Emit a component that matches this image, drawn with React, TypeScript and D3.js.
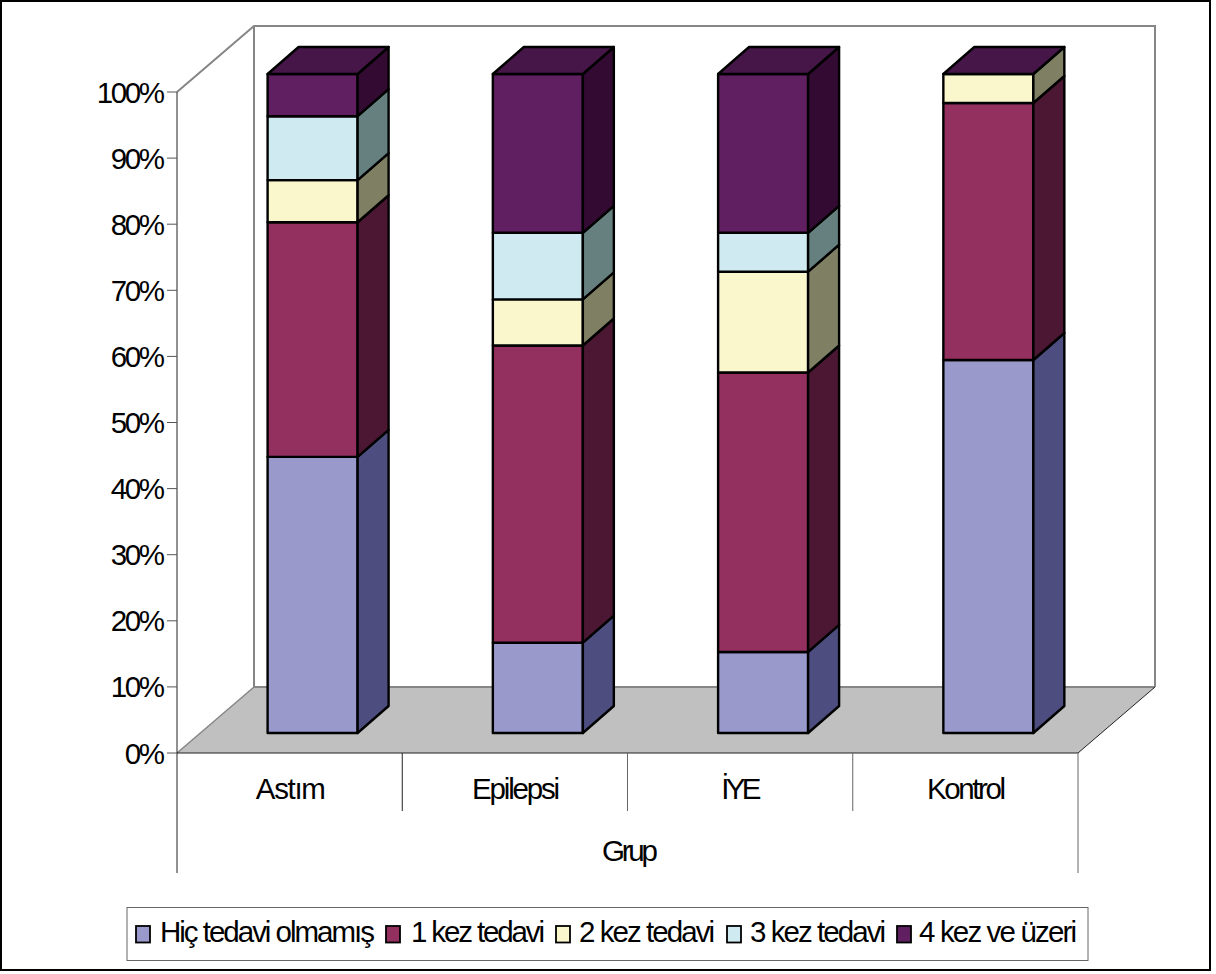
import React from "react";
import * as d3 from "d3";

const categories = ["Astım", "Epilepsi", "İYE", "Kontrol"];
const seriesNames = ["Hiç tedavi olmamış", "1 kez tedavi", "2 kez tedavi", "3 kez tedavi", "4 kez ve üzeri"];
const hicTedavi = [41.9, 13.7, 12.3, 56.6];
const birKez = [35.6, 45.1, 42.4, 39.0];
const ikiKez = [6.4, 7.0, 15.3, 4.4];
const ucKez = [9.7, 10.1, 5.9, 0];
const dortKez = [6.4, 24.1, 24.1, 0];
const yTicks = [0, 10, 20, 30, 40, 50, 60, 70, 80, 90, 100];

const frontColors = ["#9999cc", "#93305f", "#fbf7cd", "#cfebf1", "#5f1f60"];
const sideColors = ["#4d4d7f", "#4b1732", "#7f7f63", "#668080", "#320a32"];
const topColor = "#471649";
const legendSwatchX = [136, 386, 556, 727, 897];
const legendTextX = [160, 411, 579, 750, 919];
const legendTextW = [215, 134, 136, 136, 158];
const categoryTextW = [70, 88, 40, 79];

const FONT = "'Liberation Sans', Arial, sans-serif";
const TEXT_SIZE = 29.5;

export default function App() {
  const axisX = d3.scaleBand<string>().domain(categories).range([177, 1078]);
  const axisY = d3.scaleLinear().domain([0, 100]).range([753, 92]);
  const barY = d3.scaleLinear().domain([0, 100]).range([733, 74]);
  const barW = 90;
  const dx = 31;
  const dy = 27;
  const depthX = 77;
  const depthY = 66;
  const rows = [hicTedavi, birKez, ikiKez, ucKez, dortKez];
  const stack = d3.stack<number>().keys(seriesNames.map((_, i) => String(i)) as any)
    .value((d: any, k: any) => rows[+k][d])(categories.map((_, i) => i) as any);
  const line = d3.line();

  return (
    <svg width={1216} height={974} style={{ position: "absolute", left: 0, top: 0 }} fontFamily={FONT}>
      <rect x={0} y={0} width={1216} height={974} fill="#fff" />
      <rect x={1} y={1} width={1209} height={969} fill="#fff" stroke="#000" strokeWidth={2} />

      <path d={line([[177, 753], [177 + depthX, 753 - depthY], [1078 + depthX, 753 - depthY], [1078, 753]])! + "Z"} fill="#c0c0c0" stroke="none" />
      <path d={line([[177, 92], [177 + depthX, 92 - depthY], [1078 + depthX, 92 - depthY], [1078 + depthX, 753 - depthY]])!} fill="none" stroke="#868686" strokeWidth={2} />
      <path d={line([[177 + depthX, 92 - depthY], [177 + depthX, 753 - depthY], [1078 + depthX, 753 - depthY]])!} fill="none" stroke="#868686" strokeWidth={2} />
      <path d={line([[177, 753], [177 + depthX, 753 - depthY]])!} fill="none" stroke="#868686" strokeWidth={1.5} />
      <path d={line([[1078, 753], [1078 + depthX, 753 - depthY]])!} fill="none" stroke="#222" strokeWidth={1} />

      <line x1={177} x2={177} y1={92} y2={873} stroke="#222" strokeWidth={1} />
      <line x1={177} x2={1078} y1={753} y2={753} stroke="#222" strokeWidth={1.2} />
      {yTicks.map((t) => (
        <g key={t}>
          <line x1={167} x2={177} y1={axisY(t)} y2={axisY(t)} stroke="#555" strokeWidth={1} />
          <text x={162.5} y={axisY(t) + 10.5} textAnchor="end" fontSize={TEXT_SIZE} letterSpacing={-2.4} fill="#000">{t}%</text>
        </g>
      ))}
      {categories.map((c, i) => {
        const x0 = axisX(c)!;
        return (
          <g key={c}>
            <line x1={x0 + axisX.bandwidth()} x2={x0 + axisX.bandwidth()} y1={753} y2={i === 3 ? 873 : 811} stroke={i === 0 ? "#222" : "#666"} strokeWidth={1} />
            <text x={x0 + axisX.bandwidth() / 2 + 1.2} y={799} textAnchor="middle" fontSize={TEXT_SIZE} textLength={categoryTextW[i]} lengthAdjust="spacing" fill="#000">{c}</text>
          </g>
        );
      })}
      <text x={630} y={861} textAnchor="middle" fontSize={TEXT_SIZE} textLength={56} lengthAdjust="spacing" fill="#000">Grup</text>

      {stack.map((layer, s) => (
        <g key={s}>
          {layer.map((d, i) => {
            const v = d[1] - d[0];
            if (v <= 0) return null;
            const x = axisX(categories[i])! + 90.6;
            const yb = barY(d[0]);
            const yt = barY(d[1]);
            return (
              <g key={i} stroke="#000" strokeWidth={2.4} strokeLinejoin="round">
                <rect x={x} y={yt} width={barW} height={yb - yt} fill={frontColors[s]} />
                <path d={line([[x + barW, yb], [x + barW + dx, yb - dy], [x + barW + dx, yt - dy], [x + barW, yt]])! + "Z"} fill={sideColors[s]} />
                {d[1] >= 99.9 && (
                  <path d={line([[x, yt], [x + dx, yt - dy], [x + barW + dx, yt - dy], [x + barW, yt]])! + "Z"} fill={topColor} />
                )}
              </g>
            );
          })}
        </g>
      ))}

      <rect x={127} y={907.5} width={961} height={53} fill="#fff" stroke="#666" strokeWidth={1} />
      {seriesNames.map((n, i) => (
        <g key={n}>
          <rect x={legendSwatchX[i]} y={926} width={14} height={16.5} fill={frontColors[i]} stroke="#000" strokeWidth={1.8} />
          <text x={legendTextX[i]} y={942} fontSize={TEXT_SIZE} textLength={legendTextW[i]} lengthAdjust="spacing" fill="#000">{n}</text>
        </g>
      ))}
    </svg>
  );
}
